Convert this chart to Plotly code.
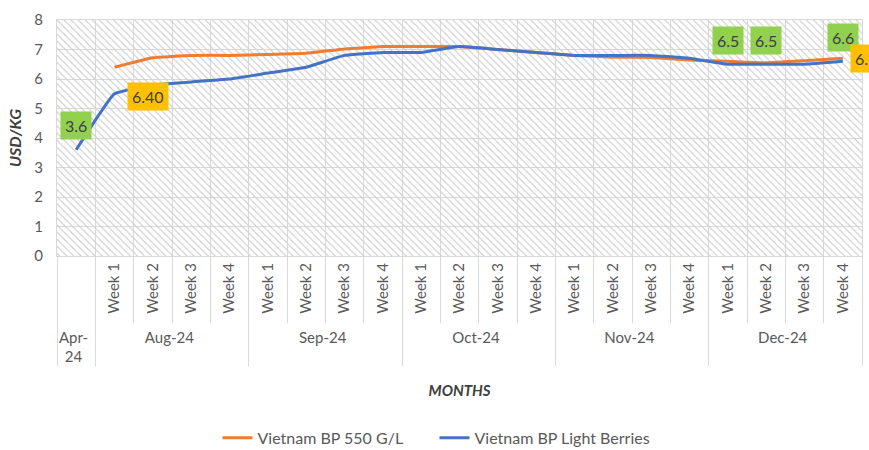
import plotly.graph_objects as go

months = ["Apr-<br>24"] + ["Aug-24"] * 4 + ["Sep-24"] * 4 + ["Oct-24"] * 4 + ["Nov-24"] * 4 + ["Dec-24"] * 4
weeks = [" "] + ["Week 1", "Week 2", "Week 3", "Week 4"] * 5

bp550 = [None, 6.40, 6.72, 6.80, 6.80, 6.83, 6.87, 7.02, 7.10, 7.10, 7.10, 7.00, 6.90,
         6.80, 6.74, 6.73, 6.64, 6.60, 6.55, 6.62, 6.70]
light = [3.6, 5.5, 5.8, 5.9, 6.0, 6.2, 6.4, 6.8, 6.9, 6.9, 7.1, 7.0, 6.9,
         6.8, 6.8, 6.8, 6.7, 6.5, 6.5, 6.5, 6.6]
background = [8] * len(months)

FONT = "Lato"
GREY = "#595959"

fig = go.Figure()

fig.add_trace(go.Bar(
    x=[months, weeks], y=background, width=1, showlegend=False, hoverinfo="skip",
    marker=dict(color="rgba(0,0,0,0)", line=dict(width=0),
                pattern=dict(shape="\\", fgcolor="#cfcfcf", bgcolor="rgba(0,0,0,0)",
                             size=5, solidity=0.22, fillmode="replace")),
))

fig.add_trace(go.Scatter(
    x=[months, weeks], y=bp550, mode="lines", name="Vietnam BP 550 G/L",
    line=dict(color="#ED7D31", width=3, shape="spline", smoothing=0.3),
))
fig.add_trace(go.Scatter(
    x=[months, weeks], y=light, mode="lines", name="Vietnam BP Light Berries",
    line=dict(color="#4472C4", width=3, shape="spline", smoothing=0.3),
))

# data labels
labels = [
    (0, light[0], "3.6", "#92D050", 0, 24),
    (17, light[17], "6.5", "#92D050", 0, 24),
    (18, light[18], "6.5", "#92D050", 0, 24),
    (20, light[20], "6.6", "#92D050", 0, 24),
    (1, bp550[1], "6.40", "#FFC000", 33, -29),
    (20, bp550[20], "6.70", "#FFC000", 28, 0),
]
for idx, yv, txt, bg, xs, ys in labels:
    fig.add_annotation(x=idx, y=yv, xref="x", yref="y", text=txt, showarrow=False,
                       bgcolor=bg, borderpad=4, xshift=xs, yshift=ys,
                       font=dict(family=FONT, size=16, color="#404040"))

fig.update_layout(
    width=869, height=450,
    margin=dict(l=57, r=7, t=20, b=194, autoexpand=False),
    plot_bgcolor="white", paper_bgcolor="white",
    bargap=0, barmode="overlay",
    font=dict(family=FONT, size=15, color=GREY),
    legend=dict(orientation="h", xref="container", x=0.5, xanchor="center",
                yref="container", y=0.027, yanchor="middle", entrywidth=172,
                font=dict(family=FONT, size=16, color=GREY)),
    showlegend=True,
)
fig.update_xaxes(
    type="multicategory", range=[-0.5, len(months) - 0.5], autorange=False,
    tickson="boundaries", ticks="outside", ticklen=66,
    tickcolor="#d9d9d9", tickangle=-90, showgrid=True, gridcolor="#d9d9d9",
    showline=True, linecolor="#d9d9d9", mirror=True, showdividers=True,
    dividercolor="#d9d9d9", tickfont=dict(family=FONT, size=15, color=GREY),
    automargin=False,
    title=dict(text="<b><i>MONTHS</i></b>", font=dict(family=FONT, size=15, color="#404040"),
               standoff=21),
)
fig.update_yaxes(
    range=[0, 8], autorange=False, dtick=1, showgrid=True, gridcolor="#d9d9d9", zeroline=False,
    showline=True, linecolor="#d9d9d9", mirror=True, automargin=False,
    tickfont=dict(family=FONT, size=15, color=GREY), ticks="", ticklabelstandoff=10,
    title=dict(text="<b><i>USD/KG</i></b>", font=dict(family=FONT, size=16, color="#404040"),
               standoff=8),
)

fig.write_html(
    "out.html",
    config={"displayModeBar": False},
    post_script="document.body.style.margin='0';document.body.style.overflow='hidden';",
)
